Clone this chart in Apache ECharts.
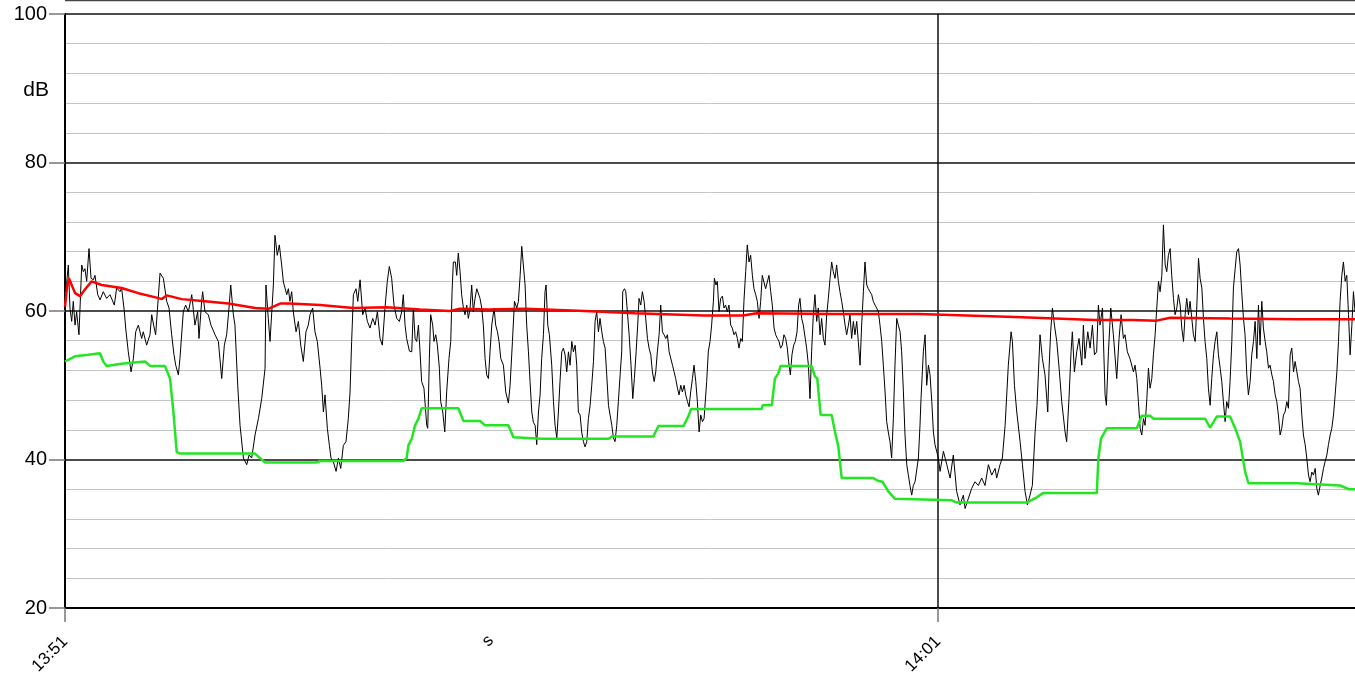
<!DOCTYPE html>
<html><head><meta charset="utf-8">
<script src="https://cdn.jsdelivr.net/npm/echarts@6/dist/echarts.min.js"></script>
<style>html,body{margin:0;padding:0;background:#fff;overflow:hidden}#c{width:1355px;height:673px}</style>
</head><body><div id="c"></div>
<script>
// x values: seconds after 13:51:00 ; y values: dB
const xTickLabels = {0: '13:51', 600: '14:01'};
const xName = 's';
const yName = 'dB';
const yTicks = [20, 40, 60, 80, 100];

const levelSeries = [
[0,60.4],[1.4,64.4],[2.3,66.2],[3.4,60.4],[4.6,58.6],[5.7,61.3],[6.9,58.1],[8.0,59.9],[9.6,56.8],[11.5,66.2],[12.6,65.3],[13.7,65.7],[14.9,64.0],[16.5,68.4],[17.9,64.4],[19.5,64.2],[20.6,64.8],[22.5,62.2],[24.1,61.5],[26.3,62.6],[28.6,61.7],[30.9,62.2],[33.9,60.8],[35.5,63.1],[37.8,62.6],[38.9,63.1],[40.8,59.9],[41.7,57.7],[43.5,54.5],[45.4,51.8],[47.0,53.6],[48.6,57.2],[50.4,58.1],[52.7,56.3],[53.8,57.2],[56.1,55.4],[58.4,56.8],[59.6,59.5],[60.9,58.1],[62.3,56.8],[65.3,65.1],[67.6,64.4],[69.9,61.3],[71.5,60.4],[73.3,56.8],[74.9,54.1],[76.1,52.7],[77.9,51.4],[79.0,53.6],[81.3,59.9],[82.9,60.8],[84.8,59.9],[87.1,62.2],[89.3,58.1],[91.2,59.9],[92.1,56.3],[93.9,61.3],[94.6,62.6],[96.2,59.9],[98.5,59.5],[100.3,58.1],[103.1,56.8],[105.4,55.9],[107.7,50.9],[109.5,55.4],[111.1,56.8],[112.7,60.4],[113.9,63.5],[115.7,59.5],[116.8,58.1],[118.7,50.0],[120.3,44.6],[122.6,40.2],[124.9,39.3],[126.5,40.6],[128.3,40.2],[130.6,43.3],[132.9,45.5],[135.2,48.2],[137.5,52.3],[138.1,63.5],[139.7,59.0],
[140.9,55.9],[143.2,63.5],[144.3,70.2],[145.9,67.5],[147.3,68.9],[148.9,66.2],[150.1,63.9],[152.4,62.2],[153.5,63.0],[154.6,61.3],[155.8,62.6],[156.9,59.9],[158.8,57.2],[160.4,58.6],[162.0,55.4],[163.8,53.2],[165.6,57.2],[167.2,58.1],[168.4,59.5],[170.2,60.4],[171.8,57.2],[173.4,55.9],[175.3,52.3],[176.4,50.0],[177.6,46.4],[178.7,48.7],[180.3,44.2],[181.7,41.9],[182.8,40.2],[184.4,39.7],[186.3,38.4],[187.9,40.2],[189.5,38.8],[191.3,41.9],[193.1,42.4],[194.7,45.5],[195.9,49.1],[197.0,55.9],[198.2,62.2],[200.0,63.0],[201.2,61.3],[202.8,64.2],[204.6,59.5],[206.2,60.4],[207.8,58.6],[209.6,57.7],[211.5,59.0],[213.1,58.1],[214.7,59.9],[216.5,56.3],[218.1,55.4],[219.9,60.4],[221.5,64.0],[222.9,66.0],[224.5,64.4],[226.1,60.8],[228.0,59.0],[229.8,58.6],[231.4,59.9],[232.5,62.2],[233.7,58.1],[234.8,56.3],[236.7,54.6],[238.3,54.5],[239.4,60.4],[240.6,56.3],[241.7,55.9],[242.9,58.1],[244.0,54.5],[245.1,50.5],[246.7,49.6],[248.6,44.6],[249.3,44.2],[250.4,53.6],[251.3,59.5],[252.7,58.1],[253.6,55.9],[254.8,56.8],[255.9,55.4],[257.3,52.3],[258.2,47.8],[259.6,46.4],[261.0,43.7],[262.3,49.1],[263.9,53.6],[265.1,55.9],[266.0,62.6],[266.9,66.6],[268.3,66.6],[269.2,64.8],[270.3,67.8],[271.5,65.3],[272.6,62.2],[273.8,60.4],[274.9,59.5],[276.1,60.8],[277.2,59.0],[278.4,60.4],[279.5,63.5],[280.6,59.9],[281.8,61.7],[283.0,63.0],[284.1,63.0],[285.2,61.7],[286.4,60.4],[287.5,58.1],[288.7,53.6],[289.8,51.4],
[291.0,50.9],[292.1,54.5],[293.3,58.1],[294.9,60.4],[296.0,58.1],[297.2,57.2],[298.3,55.9],[299.5,53.6],[301.3,52.7],[302.9,49.1],[304.7,47.6],[305.9,50.0],[307.5,55.9],[308.9,61.3],[310.5,60.4],[311.6,61.3],[312.8,64.8],[313.9,68.7],[315.0,66.2],[316.2,63.5],[317.3,58.1],[318.5,54.5],[319.6,50.5],[320.8,46.4],[321.9,45.0],[323.1,44.6],[324.2,42.0],[325.4,46.4],[326.5,48.7],[327.6,53.6],[328.8,56.8],[329.9,62.6],[330.6,63.5],[331.8,58.1],[332.9,56.8],[334.5,52.7],[335.7,47.8],[336.8,44.6],[338.0,42.9],[339.1,46.4],[340.2,50.5],[341.4,54.5],[342.5,55.0],[343.7,54.1],[344.8,51.8],[346.0,54.5],[347.1,52.7],[348.3,55.9],[349.4,54.5],[350.6,55.4],[351.7,52.7],[352.8,46.4],[354.0,46.0],[355.1,43.7],[356.3,42.4],[357.4,41.7],[358.6,42.4],[359.7,45.5],[360.9,47.3],[362.0,50.0],[363.2,53.2],[364.3,58.6],[365.4,59.9],[366.6,57.2],[367.7,59.0],[368.9,57.2],[370.0,55.9],[371.2,55.0],[372.3,51.4],[373.5,47.3],[374.6,46.0],[375.8,44.6],[376.9,42.9],[378.0,42.4],[379.2,44.6],[380.3,47.8],[381.5,51.4],[382.6,54.5],[383.3,62.6],[384.5,63.0],[385.4,62.6],[386.5,59.9],[387.7,56.8],[389.0,52.7],[390.2,48.2],[391.3,50.9],[392.5,54.5],[393.6,58.1],[394.5,61.7],[395.7,60.8],[396.8,62.6],[398.0,61.3],[399.1,59.0],[400.3,56.3],[401.4,55.0],[402.6,54.1],[403.7,51.8],[404.9,50.5],[406.0,51.8],[407.1,54.5],[408.3,56.8],[409.4,60.8],[410.6,57.2],[411.7,56.8],[412.9,56.3],[414.0,56.8],[415.2,54.5],[416.3,54.5],[417.5,52.7],[418.6,51.8],[419.7,50.9],[420.9,49.6],[422.0,48.7],[423.2,50.0],[424.3,49.1],[425.5,50.0],[426.6,48.7],[427.8,47.8],[428.9,47.1],[430.0,49.1],[431.2,50.9],[432.3,52.7],[433.5,50.5],[434.6,47.8],[435.8,43.7],[436.9,46.0],[438.1,45.1],[439.2,45.5],
[441.0,50.5],[442.1,54.5],[443.3,55.9],[444.4,58.1],[445.6,61.3],[446.3,64.4],[447.4,63.5],[448.3,64.0],[449.5,59.9],[450.6,61.7],[451.8,62.0],[452.9,60.4],[454.0,60.8],[455.2,59.9],[456.3,60.8],[457.5,58.1],[458.6,57.7],[459.8,56.8],[460.9,57.2],[462.1,56.3],[463.2,55.0],[464.4,56.3],[465.5,55.9],[466.6,61.3],[467.8,65.3],[468.9,68.9],[470.1,66.6],[471.2,67.5],[472.4,64.8],[473.5,63.0],[474.7,62.2],[475.8,61.3],[477.0,59.0],[478.1,61.3],[479.2,64.8],[480.4,64.8],[481.5,63.0],[482.7,63.0],[483.8,64.8],[485.0,62.6],[486.1,60.8],[487.3,57.7],[488.4,56.8],[489.6,56.3],[490.7,55.9],[491.8,55.0],[493.0,55.4],[494.1,56.8],[495.3,56.3],[496.4,55.0],[497.3,53.2],[498.5,51.4],[499.6,54.1],[500.8,55.4],[501.9,55.9],[503.1,57.2],[504.2,60.8],[505.1,61.7],[506.3,59.0],[507.4,58.1],[508.6,58.1],[509.7,55.0],[510.9,52.7],[512.0,48.2],[513.1,54.5],[514.3,59.5],[515.4,62.2],[516.6,58.6],[517.7,60.4],[518.9,56.8],[520.0,59.0],[521.2,56.3],[522.3,55.4],[523.5,59.5],[524.6,61.7],[525.8,64.4],[526.9,66.6],[528.0,65.3],[529.2,64.4],[530.3,66.2],[531.5,64.0],[532.6,62.6],[533.8,61.3],[534.9,59.9],[536.1,58.1],[537.2,56.8],[538.4,58.1],[539.5,59.5],[540.6,56.3],[541.8,58.6],[542.9,56.8],[544.1,58.6],[545.2,55.9],[546.4,52.7],[547.5,58.1],[548.7,62.6],[549.8,66.6],[551.0,63.5],[552.1,63.0],[553.2,62.6],[554.4,62.2],[555.5,61.3],[556.7,60.8],[557.8,60.4],[559.0,59.9],[560.1,58.1],[561.3,55.9],[562.4,52.7],[563.6,49.1],[564.7,45.1],[565.8,43.7],[567.0,42.4],[568.1,40.2],[569.3,45.5],[570.4,52.7],[571.6,59.0],[572.7,58.1],[573.9,57.2],[575.0,54.5],[576.2,49.1],[577.3,43.3],[578.5,39.3],[579.6,37.9],[580.7,36.5],[581.9,35.2],[583.0,36.5],
[584.2,37.0],[586.5,40.2],[587.6,44.6],[588.3,48.2],[589.9,54.5],[591.1,56.8],[592.2,50.0],[593.4,52.7],[594.5,51.4],[595.7,47.8],[596.8,43.7],[597.9,42.0],[600.2,40.2],[601.4,38.4],[603.7,41.1],[606.0,39.3],[608.3,37.5],[610.5,40.6],[612.8,35.7],[615.1,33.9],[617.4,35.2],[618.6,33.4],[620.9,34.8],[623.1,36.1],[625.4,37.0],[627.7,36.5],[630.0,37.5],[632.3,36.5],[634.6,39.3],[636.9,37.9],[639.2,38.8],[640.3,37.5],[642.6,39.3],[644.2,40.2],[646.1,44.6],[648.3,52.7],[650.2,57.2],[651.1,55.9],[652.5,50.0],[654.1,46.4],[656.4,42.4],[658.0,39.3],[659.8,35.7],[661.4,33.9],[663.2,35.2],[664.8,36.5],[666.7,43.7],[668.0,47.3],[670.1,56.8],[671.7,53.6],[673.5,51.4],[675.4,46.4],[676.3,52.3],[677.4,57.2],[678.6,60.4],[680.0,58.1],[681.6,55.9],[683.2,52.3],[685.0,47.8],[687.3,43.7],[688.4,42.4],[690.0,48.2],[691.4,54.5],[692.3,57.2],[693.7,51.8],[695.3,54.5],[696.9,56.3],[698.8,52.7],[699.9,58.1],[701.0,53.6],[702.9,57.2],[704.5,55.0],[706.1,58.1],[707.5,54.1],[709.0,54.5],[710.2,60.8],[711.3,58.1],[713.0,60.4],[714.8,48.7],[715.7,47.3],[717.1,54.5],[718.7,60.4],[720.5,56.8],[722.8,50.9],[724.4,56.3],[725.8,59.5],[727.4,56.3],[728.5,56.8],[730.1,54.5],[731.9,53.6],
[733.1,53.6],[734.3,51.8],[735.4,52.7],[736.6,50.9],[737.7,47.8],[738.9,44.2],[740.0,43.3],[741.2,45.5],[742.3,44.6],[743.5,48.2],[744.6,52.3],[745.7,49.6],[746.9,50.9],[748.0,54.1],[749.2,56.8],[750.3,60.4],[751.5,64.0],[752.6,62.6],[753.8,64.8],[754.9,71.6],[756.1,66.2],[757.2,65.3],[758.3,67.5],[759.5,68.4],[760.6,64.8],[761.8,61.7],[762.9,59.5],[764.1,60.4],[765.2,62.2],[766.4,60.8],[767.5,57.7],[768.7,55.9],[769.8,59.5],[770.9,61.7],[772.1,59.5],[773.2,61.3],[774.4,59.0],[775.5,56.8],[776.7,55.9],[777.8,60.4],[779.0,67.1],[780.1,64.4],[781.3,63.1],[782.4,59.0],[783.5,55.9],[784.7,53.6],[785.8,49.6],[787.0,47.3],[788.1,50.9],[789.3,54.1],[790.4,55.9],[791.6,57.2],[792.7,54.1],[793.9,52.3],[795.0,50.5],[796.1,47.8],[797.3,45.1],[798.4,47.8],[799.6,46.9],[800.7,50.5],[801.9,55.9],[803.0,63.1],[804.2,65.7],[805.3,68.0],[806.5,68.4],[807.6,66.2],[808.7,62.6],[809.9,59.0],[811.0,56.8],[812.2,51.4],[813.3,48.7],[814.5,50.5],[815.6,54.1],[816.8,55.9],[817.9,58.6],[819.1,53.6],[820.2,60.8],[821.3,55.4],[822.5,61.3],[823.6,57.7],[824.8,55.9],[825.9,54.5],[827.1,52.3],[828.2,52.7],[829.4,51.4],[830.5,50.5],[831.7,48.7],[832.8,47.8],[833.9,46.0],[835.1,43.3],[836.2,44.2],[837.4,46.0],[838.5,46.4],[839.7,47.8],[840.8,46.9],[842.0,54.1],[843.1,55.0],[844.3,51.8],[845.4,53.2],[846.6,51.8],[847.7,50.5],[848.8,49.6],[850.0,46.0],[851.1,43.3],[852.3,42.0],[853.4,40.2],[854.6,37.9],[855.7,37.0],[856.9,38.3],[858.0,37.9],[859.2,38.8],[860.3,36.1],[861.4,35.2],[862.6,36.5],[863.7,37.5],[864.9,38.8],[866.0,39.7],[867.2,40.6],[868.3,42.0],[869.5,43.3],[870.6,44.2],[871.8,46.0],[872.9,48.7],[874.1,51.8],[875.2,55.9],[876.3,61.3],[877.5,64.8],[878.6,66.6],[879.8,64.0],[880.9,64.8],[882.1,59.5],[883.2,54.1],[884.4,58.1],[885.5,62.6],[886.6,59.9]
];

const leqSeries = [
[0,60.6],[1.4,63.2],[2.7,64.4],[5.0,63.3],[7.0,62.4],[10.3,62.0],[13.7,62.9],[18.3,64.0],[25.2,63.5],[38.9,63.1],[50.4,62.4],[63.0,61.8],[66.5,61.6],[69.9,62.1],[80.2,61.6],[96.2,61.3],[112.3,61.0],[130.6,60.4],[139.7,60.3],[147.8,61.0],[154.6,61.0],[175.3,60.8],[198.2,60.4],[221.1,60.5],[244.0,60.2],[264.6,60.0],[271.5,60.3],[291.0,60.2],[316.2,60.3],[357.4,60.0],[391.8,59.7],[438.8,59.4],[466.2,59.4],[475.3,59.7],[528.0,59.6],[586.5,59.6],[652.9,59.2],[707.9,58.8],[734.3,58.8],[750.3,58.7],[759.5,59.1],[800.7,59.0],[846.6,58.9],[886.6,58.9]
];

const l90Series = [
[0,53.2],[6.9,53.9],[16.0,54.1],[24.1,54.3],[26.3,53.2],[28.6,52.6],[38.9,52.9],[55.0,53.2],[58.4,52.6],[68.7,52.6],[72.2,50.9],[74.5,46.4],[76.8,41.0],[79.0,40.8],[130.6,40.8],[137.5,39.6],[172.9,39.6],[175.3,39.8],[232.5,39.8],[234.8,40.2],[236.0,41.9],[238.3,42.8],[240.6,44.6],[242.9,45.5],[245.1,46.9],[270.3,46.9],[273.8,45.2],[285.2,45.2],[288.7,44.6],[304.7,44.6],[308.2,43.0],[327.6,42.8],[373.5,42.8],[375.8,43.1],[404.4,43.1],[407.8,44.5],[425.0,44.5],[428.4,45.8],[430.3,46.8],[478.8,46.8],[479.5,47.3],[485.7,47.3],[487.9,50.9],[490.2,51.6],[491.8,52.6],[513.1,52.6],[515.4,51.2],[517.0,50.9],[519.3,46.0],[526.9,46.0],[529.2,43.7],[531.5,41.7],[533.8,37.5],[555.5,37.5],[559.0,37.1],[561.9,37.0],[565.8,35.7],[570.4,34.7],[609.4,34.5],[612.8,34.2],[661.0,34.2],[667.8,34.9],[672.4,35.5],[709.1,35.5],[710.2,40.2],[712.0,42.8],[715.9,44.2],[736.6,44.2],[740.0,45.9],[745.7,45.9],[748.0,45.5],[783.5,45.5],[787.0,44.3],[791.6,45.8],[800.7,45.8],[804.2,44.2],[807.6,42.4],[811.0,38.4],[813.3,36.8],[846.6,36.8],[876.3,36.5],[882.1,36.0],[886.6,36.0]
];

const chart = echarts.init(document.getElementById('c'), null, {renderer: 'canvas'});
const FONT = '"Liberation Sans", Arial, sans-serif';
chart.setOption({
  animation: false,
  backgroundColor: '#fff',
  grid: {left: 65, right: -20, top: 14, bottom: 65, containLabel: false, outerBoundsMode: 'none'},
  xAxis: {
    type: 'value', min: 0, max: 900.3, interval: 600,
    axisLine: {show: true, onZero: false, lineStyle: {color: '#000', width: 2}},
    axisTick: {show: true, length: 14, lineStyle: {color: '#777', width: 1.5}},
    axisLabel: {rotate: 45, fontSize: 17, color: '#000', fontFamily: FONT, margin: 31,
      formatter: v => xTickLabels[v] || ''},
    splitLine: {show: true, lineStyle: {color: '#111', width: 1.5}}
  },
  yAxis: {
    type: 'value', min: yTicks[0], max: yTicks[yTicks.length - 1], interval: 20,
    axisLine: {show: true, onZero: false, lineStyle: {color: '#000', width: 2}},
    axisTick: {show: true, length: 16, lineStyle: {color: '#777', width: 1.5}},
    axisLabel: {fontSize: 20, color: '#000', fontFamily: FONT, margin: 18},
    splitLine: {show: true, lineStyle: {color: '#111', width: 1.5}},
    minorTick: {show: false, splitNumber: 5},
    minorSplitLine: {show: true, lineStyle: {color: '#c4c4c4', width: 1}}
  },
  graphic: [
    {type: 'line', shape: {x1: 65, y1: 0.5, x2: 1355, y2: 0.5}, style: {stroke: '#444', lineWidth: 1.5}, silent: true},
    {type: 'text', x: 49, y: 90, style: {text: yName, font: '21px ' + FONT, fill: '#000', align: 'right', verticalAlign: 'middle', textAlign: 'right', textVerticalAlign: 'middle'}},
    {type: 'text', x: 488, y: 641, rotation: Math.PI / 4, style: {text: xName, font: '17px ' + FONT, fill: '#000', align: 'center', verticalAlign: 'middle', textAlign: 'center', textVerticalAlign: 'middle'}}
  ],
  series: [
    {type: 'line', data: levelSeries, showSymbol: false, symbol: 'none', lineStyle: {color: '#000', width: 1}, z: 2, silent: true},
    {type: 'line', data: l90Series, showSymbol: false, symbol: 'none', lineStyle: {color: '#22e622', width: 2.5}, z: 3, silent: true},
    {type: 'line', data: leqSeries, showSymbol: false, symbol: 'none', lineStyle: {color: '#ff0000', width: 2.5}, z: 4, silent: true}
  ]
});
</script></body></html>
